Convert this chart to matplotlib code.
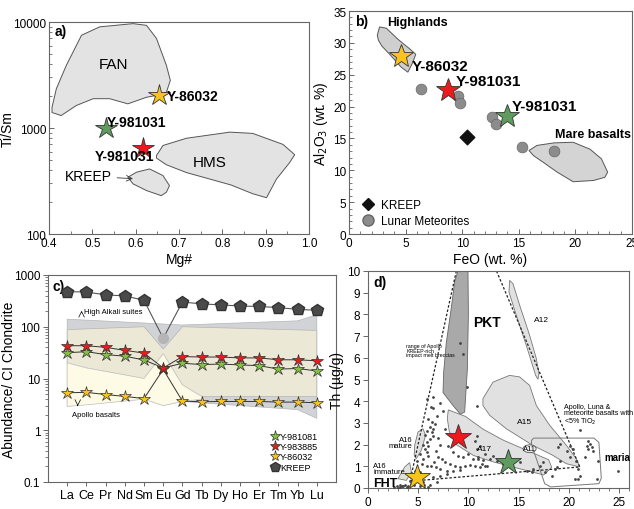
import numpy as np
import matplotlib
matplotlib.use("Agg")
import matplotlib.pyplot as plt
from matplotlib.patches import Polygon, Ellipse
from matplotlib.lines import Line2D
from matplotlib.ticker import NullFormatter, MultipleLocator

plt.rcParams['font.family'] = ['Liberation Sans', 'DejaVu Sans']

# ---------------- panel a: Ti/Sm vs Mg# ----------------
fan_x = [0.407, 0.417, 0.44, 0.475, 0.517, 0.594, 0.625, 0.648, 0.671, 0.68, 0.671, 0.648, 0.625, 0.582, 0.54, 0.502, 0.463, 0.428, 0.407]
fan_y = [1570, 2350, 3900, 7500, 9000, 9650, 9300, 7000, 3890, 2810, 2180, 2030, 1950, 1690, 1890, 1890, 1630, 1310, 1400]
hms_x = [0.648, 0.663, 0.717, 0.817, 0.87, 0.94, 0.967, 0.955, 0.925, 0.902, 0.87, 0.82, 0.771, 0.717, 0.671, 0.648]
hms_y = [550, 684, 800, 914, 890, 700, 560, 470, 330, 220, 240, 290, 330, 380, 450, 520]
kreep_a_x = [0.582, 0.602, 0.632, 0.663, 0.678, 0.671, 0.659, 0.625, 0.594]
kreep_a_y = [343, 383, 411, 356, 286, 248, 230, 257, 297]
mg_num = {'Y-86032': 0.654, 'Y-981031 g': 0.531, 'Y-981031 r': 0.617}
ti_sm = {'Y-86032': 2050, 'Y-981031 g': 990, 'Y-981031 r': 650}

# ---------------- panel b: Al2O3 vs FeO ----------------
highl_x = [2.5, 2.7, 3.3, 4.3, 5.4, 5.9, 5.6, 5.2, 4.6, 3.7, 2.9, 2.6]
highl_y = [31.2, 32.5, 32.3, 30.6, 29.0, 28.2, 26.8, 25.4, 26.2, 28.0, 29.5, 30.4]
mare_x = [15.9, 16.6, 18.1, 19.8, 21.3, 22.3, 22.85, 22.6, 21.6, 19.8, 18.4, 17.2, 16.3]
mare_y = [13.1, 13.9, 14.3, 14.4, 13.3, 11.8, 9.7, 8.9, 8.4, 8.2, 9.7, 11.2, 12.3]
met_feo = [6.4, 9.65, 9.8, 12.66, 13.0, 15.26, 18.15]
met_al = [22.7, 21.6, 20.6, 18.4, 17.2, 13.7, 13.05]
kreep_feo, kreep_al = 10.45, 15.25
feo_b = {'Y-86032': 4.63, 'Y-981031 r': 8.77, 'Y-981031 g': 13.93}
al_b = {'Y-86032': 27.95, 'Y-981031 r': 22.6, 'Y-981031 g': 18.55}

# ---------------- panel c: REE patterns ----------------
ree = ['La', 'Ce', 'Pr', 'Nd', 'Sm', 'Eu', 'Gd', 'Tb', 'Dy', 'Ho', 'Er', 'Tm', 'Yb', 'Lu']
kreep_ree = [476, 470, 412, 395, 324, 60, 301, 276, 265, 251, 247, 234, 217, 208]
y981081 = [31.5, 33, 29, 27, 22.8, 16, 19.7, 18.6, 19, 18.3, 17.7, 15.2, 15.6, 14]
y983885 = [43, 43, 40, 35, 31, 16, 26.5, 26, 26, 25, 25, 23, 23, 22]
y86032 = [5.3, 5.4, 4.9, 4.5, 4.1, 15, 3.66, 3.55, 3.6, 3.6, 3.6, 3.5, 3.5, 3.4]
hialk_x = [0, 4, 6, 12, 13, 13, 12, 6, 5, 4, 0]
hialk_y = [140, 118, 108, 130, 170, 1.7, 2.5, 3.6, 3.0, 4.0, 2.9]
overlap_x = [0, 4, 5, 6, 13, 13, 7, 6, 5, 4, 1, 0]
overlap_y = [88, 100, 37, 100, 85, 4.5, 4.5, 7.5, 30, 10, 16, 20]
apollo_x = [0, 1, 4, 5, 6, 7, 7, 6, 5, 4, 1, 0]
apollo_y = [20, 16, 10, 30, 7.5, 4.5, 4.0, 3.6, 3.0, 4.0, 3.1, 2.9]

# ---------------- panel d: Th vs FeO ----------------
pkt_x = [8.96, 9.96, 10.0, 9.9, 9.63, 9.2, 8.47, 7.47, 7.54, 7.8, 8.3, 8.63]
pkt_y = [10, 10, 8.0, 5.5, 3.5, 3.4, 3.8, 4.4, 5.35, 6.7, 8.3, 9.5]
a17_x = [8.0, 9.7, 11.5, 13.5, 16.0, 18.0, 18.3, 17.5, 15.0, 12.5, 10.5, 8.8, 8.1, 7.9]
a17_y = [3.6, 3.3, 2.7, 2.2, 1.7, 1.3, 0.95, 0.6, 0.9, 1.2, 1.5, 2.0, 2.6, 3.2]
a15_x = [11.45, 12.45, 14.1, 15.1, 16.1, 16.77, 18.1, 19.76, 20.75, 21.08, 19.76, 18.43, 16.4, 13.78, 12.12, 11.45]
a15_y = [4.12, 4.88, 5.19, 5.12, 4.73, 3.8, 2.89, 1.97, 1.35, 0.97, 1.12, 1.5, 1.97, 2.73, 3.35, 3.8]
a12_x = [14.11, 14.44, 15.11, 16.1, 16.77, 17.03, 16.93, 16.7, 15.77, 14.77, 14.04]
a12_y = [9.57, 9.42, 8.42, 7.04, 5.96, 5.27, 5.01, 5.19, 6.57, 7.96, 9.03]
a16m_x = [4.65, 4.98, 5.48, 5.74, 5.31, 4.81, 4.6]
a16m_y = [1.97, 2.58, 2.73, 2.43, 1.74, 1.35, 1.5]
a16i_x = [2.99, 3.65, 4.15, 4.32, 3.82]
a16i_y = [0.43, 0.97, 1.17, 0.74, 0.35]
maria_x = [16.5, 22.5, 23.0, 23.24, 23.0, 18.2, 17.6, 16.77, 16.27, 16.3]
maria_y = [2.3, 2.3, 2.1, 0.45, 0.2, 0.05, 0.2, 1.35, 2.0, 2.2]
trend_x = [8.8, 4.2, 5.2, 21.1, 12.8]
trend_y = [10, 0.35, 0.35, 0.97, 10]
a11_feo, a11_th = 16.1, 1.81
th_feo = [9.16, 9.5, 9.9, 10.82, 6.51, 7.5, 6.01, 6.34, 6.67, 6.18, 6.51, 5.84, 6.34, 5.68, 6.51, 6.18,
          5.84, 6.01, 5.51, 5.68, 5.84, 5.18, 6.01, 5.51, 4.85, 5.35, 5.84, 4.68, 5.18, 5.68, 4.51, 5.01,
          5.51, 4.18, 3.52, 3.85, 3.19, 7.67, 8.0, 8.5, 9.0, 9.5, 9.99, 10.49, 10.99, 11.49, 7.34, 7.67,
          8.17, 8.67, 9.16, 9.66, 10.16, 10.66, 11.16, 11.65, 7.17, 7.84, 8.5, 9.16, 7.17, 7.84, 6.51,
          6.84, 6.18, 10.82, 11.16, 6.31, 6.47, 5.88, 7.2, 6.9, 7.0, 7.2, 6.8, 7.0, 6.6, 6.3, 6.8,
          10.66, 10.82, 10.99, 11.65, 12.15, 12.48, 12.81, 11.32, 11.82, 13.48, 15.14, 15.8, 16.3,
          16.46, 17.12, 17.46, 17.62, 18.29, 18.62, 18.79, 19.12, 19.12, 18.96, 19.78, 20.11, 20.44,
          20.11, 20.77, 20.94, 20.61, 20.94, 21.11, 21.15, 21.94, 22.11, 21.78, 22.27, 21.94, 22.44,
          21.61, 22.94, 22.77, 24.94, 2.6, 2.9, 3.2, 3.4, 3.7, 4.0, 4.3, 4.6, 5.2, 5.6, 6.0, 3.0]
th_val = [6.68, 6.17, 4.64, 3.79, 3.67, 3.56, 3.18, 3.06, 2.95, 2.8, 2.72, 2.64, 2.56, 2.44, 2.41, 2.26,
          2.1, 1.95, 1.98, 1.8, 1.64, 1.57, 1.49, 1.34, 1.26, 1.11, 1.03, 0.8, 0.72, 0.64, 0.57, 0.41,
          0.26, 0.34, 0.11, 0.03, 0.03, 2.72, 1.95, 1.64, 1.49, 1.42, 1.57, 1.34, 1.42, 1.31, 1.34, 1.18,
          1.11, 1.03, 0.95, 1.03, 1.06, 1.03, 0.95, 1.03, 0.88, 0.8, 0.8, 0.85, 0.57, 0.64, 0.49,
          0.26, 0.14, 2.41, 1.95, 3.73, 4.19, 4.12, 3.9, 3.3, 2.3, 2.0, 1.7, 1.45, 1.2, 1.0, 0.95,
          2.18, 1.8, 1.34, 1.57, 1.34, 1.49, 1.26, 1.11, 1.03, 1.11, 1.18, 0.8, 0.72,
          0.88, 1.03, 1.18, 0.72, 0.57, 0.88, 0.95, 1.26, 2.03, 1.88, 1.72, 1.95, 1.8,
          1.41, 1.26, 0.88, 0.41, 0.41, 0.57, 2.67, 2.18, 2.03, 1.95, 1.88, 1.8, 1.72,
          1.41, 1.26, 0.41, 0.8, 0.05, 0.1, 0.12, 0.08, 0.15, 0.1, 0.2, 0.12, 0.1, 0.15, 0.05, 0.02]
feo_d = {'Y-86032': 4.88, 'Y-981031 r': 9.0, 'Y-981031 g': 13.94}
th_d = {'Y-86032': 0.5, 'Y-981031 r': 2.35, 'Y-981031 g': 1.2}

YEL, RED, GRN = '#f7c31c', '#ea1a1d', '#5f9a5f'
star_col = {'Y-86032': YEL, 'Y-981031 r': RED, 'Y-981031 g': GRN}
POLY = '#e3e3e3'
EDGE = '#555555'

fig = plt.figure(figsize=(6.34, 5.10), dpi=100)
W, H = 634, 510


def px_axes(l, r, t, b):
    return fig.add_axes([l / W, (H - b) / H, (r - l) / W, (b - t) / H])


def style(ax):
    for s in ax.spines.values():
        s.set_color('#666666')
        s.set_linewidth(0.8)
    ax.tick_params(labelsize=8.5, color='#666666', width=0.7, pad=2)
    ax.tick_params(which='minor', color='#666666', width=0.6, length=2)


def poly(ax, xs, ys, fc=POLY, ec=EDGE, lw=0.7, z=1):
    ax.add_patch(Polygon(np.column_stack([xs, ys]), closed=True, fc=fc, ec=ec, lw=lw, zorder=z))


# ---- a ----
ax = px_axes(49, 309, 23, 235)
style(ax)
ax.set_yscale('log')
ax.set_xlim(0.4, 1.0)
ax.set_ylim(100, 10000)
poly(ax, fan_x, fan_y)
poly(ax, hms_x, hms_y)
poly(ax, kreep_a_x, kreep_a_y)
for k in mg_num:
    ax.plot(mg_num[k], ti_sm[k], marker='*', ms=16, mfc=star_col[k], mec='#333333', mew=0.6, zorder=5)
ax.text(0.672, 2000, 'Y-86032', fontsize=10, fontweight='bold', va='center', zorder=6)
ax.text(0.533, 1150, 'Y-981031', fontsize=10, fontweight='bold', va='center', zorder=6)
ax.text(0.505, 545, 'Y-981031', fontsize=10, fontweight='bold', va='center', zorder=6)
ax.text(0.548, 4000, 'FAN', fontsize=11, ha='center', va='center')
ax.text(0.771, 475, 'HMS', fontsize=11, ha='center', va='center')
ax.annotate('KREEP', xy=(0.6, 332), xytext=(0.436, 350), fontsize=10, va='center',
            arrowprops=dict(arrowstyle='->', lw=0.6, color='#333333'))
ax.text(0.413, 8300, 'a)', fontsize=10, fontweight='bold', va='center')
ax.set_yticks([100, 1000, 10000])
ax.set_yticklabels(['100', '1000', '10000'])
ax.set_xticks(np.arange(0.4, 1.01, 0.1))
ax.set_xticklabels(['0.4', '0.5', '0.6', '0.7', '0.8', '0.9', '1.0'])
ax.xaxis.set_minor_locator(MultipleLocator(0.05))
ax.tick_params(which='both', direction='in')
ax.yaxis.set_minor_formatter(NullFormatter())
ax.set_xlabel('Mg#', fontsize=10, labelpad=2)
ax.set_ylabel('Ti/Sm', fontsize=10)
ax.yaxis.set_label_coords(-0.13, 0.5)

# ---- b ----
ax = px_axes(349, 632, 12, 235)
style(ax)
ax.set_xlim(0, 25)
ax.set_ylim(0, 35)
poly(ax, highl_x, highl_y, fc='#cfcfcf')
poly(ax, mare_x, mare_y, fc='#d4d4d4')
ax.scatter(met_feo, met_al, s=60, c='#8c8c8c', edgecolors='#666666', linewidths=0.5, zorder=3)
ax.scatter([kreep_feo], [kreep_al], s=55, marker='D', c='#111111', zorder=3)
for k in feo_b:
    ax.plot(feo_b[k], al_b[k], marker='*', ms=18, mfc=star_col[k], mec='#333333', mew=0.6, zorder=5)
ax.text(5.5, 26.4, 'Y-86032', fontsize=11, fontweight='bold', va='center')
ax.text(9.4, 24.0, 'Y-981031', fontsize=11, fontweight='bold', va='center')
ax.text(14.4, 20.1, 'Y-981031', fontsize=11, fontweight='bold', va='center')
ax.text(3.4, 33.2, 'Highlands', fontsize=9, fontweight='bold', va='center')
ax.text(18.2, 15.7, 'Mare basalts', fontsize=9, fontweight='bold', va='center')
ax.text(0.5, 33.4, 'b)', fontsize=10, fontweight='bold', va='center')
hb = [Line2D([], [], ls='', marker='D', ms=6, color='#111111'),
      Line2D([], [], ls='', marker='o', ms=8, mfc='#8c8c8c', mec='#666666')]
ax.legend(hb, ['KREEP', 'Lunar Meteorites'], loc='lower left', frameon=False, fontsize=8.5,
          handletextpad=0.1, borderaxespad=0.2, labelspacing=0.3)
ax.set_xticks(range(0, 26, 5))
ax.set_yticks(range(0, 36, 5))
ax.xaxis.set_minor_locator(MultipleLocator(1))
ax.yaxis.set_minor_locator(MultipleLocator(1))
ax.tick_params(which='both', direction='in')
ax.set_xlabel('FeO (wt. %)', fontsize=10, labelpad=2)
ax.set_ylabel('Al$_2$O$_3$ (wt. %)', fontsize=10, labelpad=2)

# ---- c ----
ax = px_axes(48, 336, 276, 483)
style(ax)
ax.set_yscale('log')
ax.set_xlim(-1, 14)
ax.set_ylim(0.1, 1000)
xi = np.arange(len(ree))
poly(ax, hialk_x, hialk_y, fc='#d2d3d6', ec='#b5b5b5', lw=0.5)
poly(ax, overlap_x, overlap_y, fc='#ebe8d5', ec='#b5b5b5', lw=0.5, z=1.1)
poly(ax, apollo_x, apollo_y, fc='#fdfbe6', ec='#c8c8c8', lw=0.5, z=1.2)
ax.plot(xi, kreep_ree, '-', color='#555555', lw=0.8, zorder=3)
mask = np.array(ree) != 'Eu'
ax.plot(xi[mask], np.array(kreep_ree)[mask], ls='', marker='p', ms=9, mfc='#4a4a4a', mec='#333333', zorder=4)
ax.plot(xi[~mask], np.array(kreep_ree)[~mask], ls='', marker='o', ms=7, mfc='#b5b5b5', mec='#b5b5b5', zorder=4)
for vals, col in [(y86032, YEL), (y981081, '#84c041'), (y983885, RED)]:
    ax.plot(xi, vals, '-', color='#333333', lw=0.7, zorder=5)
    ax.plot(xi, vals, ls='', marker='*', ms=9, mfc=col, mec='#333333', mew=0.5, zorder=6)
ax.text(0.9, 196, 'High Alkali suites', fontsize=5.5, va='center')
ax.annotate('', xy=(0.75, 230), xytext=(0.75, 165), arrowprops=dict(arrowstyle='->', lw=0.5))
ax.text(0.25, 2.0, 'Apollo basalts', fontsize=5.5, va='center')
ax.annotate('', xy=(0.55, 2.6), xytext=(0.55, 3.4), arrowprops=dict(arrowstyle='->', lw=0.5))
ax.text(-0.75, 600, 'c)', fontsize=10, fontweight='bold', va='center')
hc = [Line2D([], [], ls='', marker='*', ms=8, mfc='#84c041', mec='#333333', mew=0.5),
      Line2D([], [], ls='', marker='*', ms=8, mfc=RED, mec='#333333', mew=0.5),
      Line2D([], [], ls='', marker='*', ms=8, mfc=YEL, mec='#333333', mew=0.5),
      Line2D([], [], ls='', marker='p', ms=7, mfc='#4a4a4a', mec='#333333')]
ax.legend(hc, ['Y-981081', 'Y-983885', 'Y-86032', 'KREEP'], loc='lower left', bbox_to_anchor=(0.74, 0.01),
          frameon=False, fontsize=6.5, handletextpad=0.0, labelspacing=0.15, handlelength=1.2)
ax.set_xticks(xi)
ax.set_xticklabels(ree)
ax.set_yticks([0.1, 1, 10, 100, 1000])
ax.set_yticklabels(['0.1', '1', '10', '100', '1000'])
ax.yaxis.set_minor_formatter(NullFormatter())
ax.tick_params(axis='x', length=3, labelsize=9)
ax.set_ylabel('Abundance/ CI Chondrite', fontsize=10)
ax.yaxis.set_label_coords(-0.11, 0.5)

# ---- d ----
ax = px_axes(368, 629, 272, 489)
style(ax)
ax.set_xlim(0, 26)
ax.set_ylim(0, 10)
poly(ax, a15_x, a15_y, fc='#e1e1e1', ec='#777777', lw=0.6)
poly(ax, a17_x, a17_y, fc='#e1e1e1', ec='#777777', lw=0.6)
poly(ax, a12_x, a12_y, fc='#e1e1e1', ec='#777777', lw=0.6)
poly(ax, a16m_x, a16m_y, fc='#e1e1e1', ec='#777777', lw=0.6)
poly(ax, a16i_x, a16i_y, fc='#e1e1e1', ec='#777777', lw=0.6)
poly(ax, pkt_x, pkt_y, fc='#a9a9a9', ec='#666666', lw=0.6, z=1.5)
poly(ax, maria_x, maria_y, fc='none', ec='#777777', lw=0.7, z=1.6)
ax.add_patch(Ellipse((a11_feo, a11_th), 1.3, 0.36, fc='#eeeeee', ec='#555555', lw=0.6, zorder=2))
ax.plot(trend_x, trend_y, ls=(0, (2, 1.5)), color='#222222', lw=0.9, zorder=2)
ax.scatter(th_feo, th_val, s=4, c='#444444', zorder=3, linewidths=0)
for k in feo_d:
    ax.plot(feo_d[k], th_d[k], marker='*', ms=19, mfc=star_col[k], mec='#333333', mew=0.6, zorder=5)
ax.text(10.5, 7.65, 'PKT', fontsize=10, fontweight='bold', va='center')
ax.text(16.5, 7.75, 'A12', fontsize=6, va='center')
ax.text(3.8, 6.35, 'range of Apollo\nKREEP-rich\nimpact melt breccias', fontsize=3.8, va='center', linespacing=0.9)
ax.text(14.8, 3.05, 'A15', fontsize=6, va='center')
ax.text(10.9, 1.8, 'A17', fontsize=6, va='center')
ax.text(a11_feo, a11_th, 'A11', fontsize=5.5, ha='center', va='center', zorder=3)
ax.text(4.4, 2.1, 'A16\nmature', fontsize=5.5, ha='right', va='center', linespacing=0.9)
ax.text(0.5, 0.9, 'A16\nimmature', fontsize=5.5, ha='left', va='center', linespacing=0.9)
ax.text(0.5, 0.25, 'FHT', fontsize=9, fontweight='bold', va='center', zorder=6)
ax.text(19.5, 3.4, 'Apollo, Luna &\nmeteorite basalts with\n<5% TiO$_2$', fontsize=5.1, va='center', linespacing=0.9)
ax.text(23.5, 1.45, 'maria', fontsize=7, fontweight='bold', va='center')
ax.text(0.5, 9.5, 'd)', fontsize=10, fontweight='bold', va='center')
ax.set_xticks(range(0, 26, 5))
ax.set_yticks(range(0, 11))
ax.xaxis.set_minor_locator(MultipleLocator(1))
ax.set_xlabel('FeO (wt. %)', fontsize=10, labelpad=2)
ax.set_ylabel('Th (µg/g)', fontsize=10, labelpad=2)

fig.savefig('out.png', dpi=100)
